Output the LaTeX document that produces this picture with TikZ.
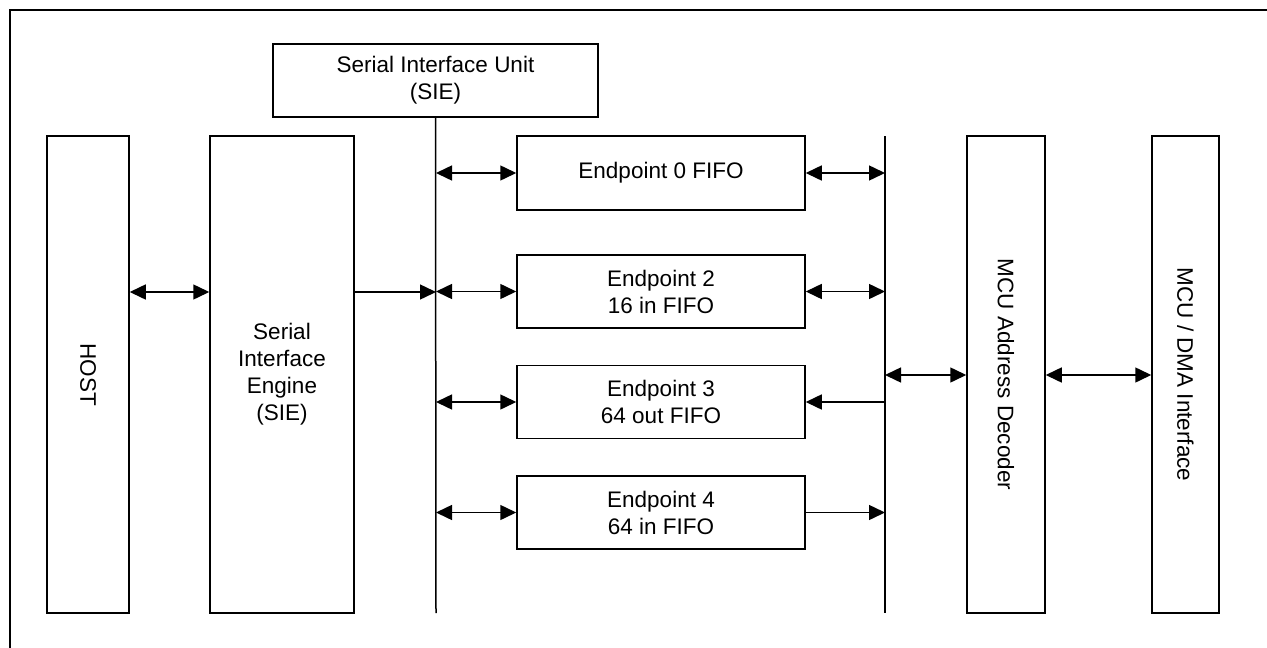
\documentclass[tikz,border=0pt]{standalone}
\usepackage{fontspec}
\setmainfont{Liberation Sans}
\usetikzlibrary{arrows.meta}
\begin{document}
\begin{tikzpicture}[x=1pt,y=-1pt,
  blk/.style={draw,line width=1.5pt,rectangle,inner sep=0pt,align=center,
    font=\fontsize{22.5}{27}\selectfont},
  conn/.style={line width=1.5pt},
  tip/.style={-{Triangle[length=16pt,width=15pt]}},
  both/.style={{Triangle[length=16pt,width=15pt]}-{Triangle[length=16pt,width=15pt]}},
  bus/.style={line width=1.5pt}]
\useasboundingbox (0,0) rectangle (1267,648);
% outer frame
\draw[line width=2.2pt] (10,660) -- (10,10) -- (1280,10);

% blocks
\node[blk,minimum width=82pt,minimum height=477pt] (host) at (88,374.5) {\rotatebox{-90}{HOST}};
\node[blk,minimum width=144pt,minimum height=477pt] (sie) at (282,374.5)
  {Serial\\Interface\\Engine\\(SIE)};
\node[blk,minimum width=325pt,minimum height=73pt] (siu) at (435.5,80.5)
  {Serial Interface Unit\\(SIE)};
\node[blk,minimum width=288pt,minimum height=74pt] (ep0) at (661,173) {Endpoint 0 FIFO};
\node[blk,minimum width=288pt,minimum height=73pt] (ep2) at (661,291.5) {Endpoint 2\\16 in FIFO};
\node[blk,minimum width=288pt,minimum height=73pt] (ep3) at (661,402) {Endpoint 3\\64 out FIFO};
\node[blk,minimum width=288pt,minimum height=73pt] (ep4) at (661,512.5) {Endpoint 4\\64 in FIFO};
\node[blk,minimum width=78pt,minimum height=477pt] (mad) at (1006,374.5) {\rotatebox{-90}{MCU Address Decoder}};
\node[blk,minimum width=67pt,minimum height=477pt] (dma) at (1185.5,374.5) {\rotatebox{-90}{MCU / DMA Interface}};

% buses
\coordinate (busLtop) at (siu.south);
\coordinate (busL) at (436,613);
\coordinate (busRtop) at (885,136);
\coordinate (busR) at (885,613);
\draw[bus] (busLtop) -- (busL);
\draw[bus] (busRtop) -- (busR);

% host side
\draw[conn,both] (host.east |- 0,292) -- (sie.west |- 0,292);
\draw[conn,tip] (sie.east |- 0,292) -- (busL |- 0,292);

% bus to endpoints
\draw[conn,both] (ep0.west -| busL) -- (ep0.west);
\draw[conn,both] (ep2.west -| busL) -- (ep2.west);
\draw[conn,both] (ep3.west -| busL) -- (ep3.west);
\draw[conn,both] (ep4.west -| busL) -- (ep4.west);

\draw[conn,both] (ep0.east) -- (ep0.east -| busR);
\draw[conn,both] (ep2.east) -- (ep2.east -| busR);
\draw[conn,tip] (ep3.east -| busR) -- (ep3.east);
\draw[conn,tip] (ep4.east) -- (ep4.east -| busR);

% MCU side
\draw[conn,both] (busR |- 0,375) -- (mad.west |- 0,375);
\draw[conn,both] (mad.east |- 0,375) -- (dma.west |- 0,375);
\end{tikzpicture}
\end{document}
